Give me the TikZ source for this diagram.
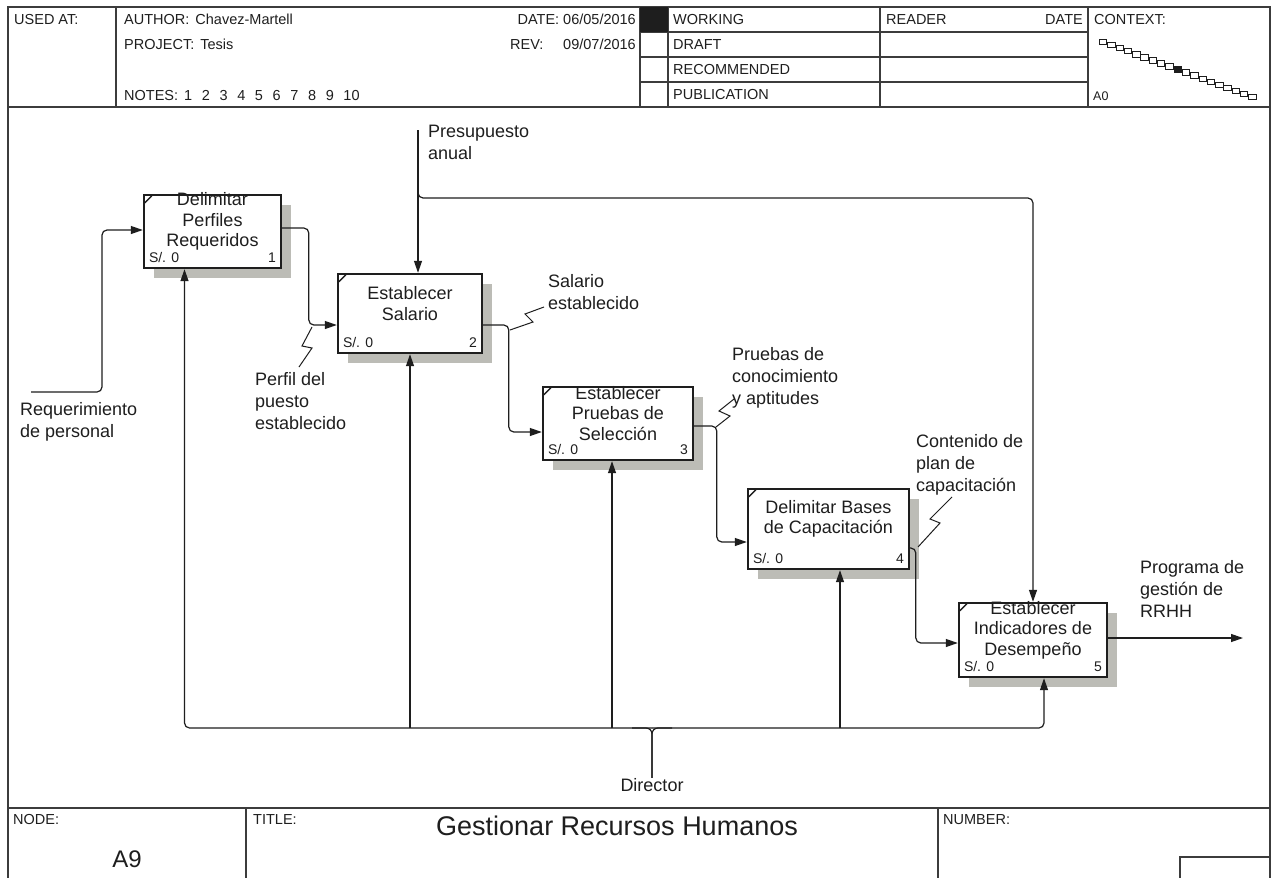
\documentclass[tikz,border=0pt]{standalone}
\usepackage{fontspec}
\setmainfont{Liberation Sans}
\usetikzlibrary{arrows.meta,calc,shadows}
\definecolor{ink}{RGB}{30,30,30}
\definecolor{shade}{RGB}{188,188,182}
\definecolor{rule}{RGB}{60,60,60}
\newcommand\notenum[1]{\makebox[17.7pt][l]{#1}}
\tikzset{
  hdr/.style={anchor=base west, inner sep=0, font=\fontsize{14.5}{16}\selectfont, text=ink},
  hdrR/.style={hdr, anchor=base east},
  lbl/.style={anchor=base west, inner sep=0, align=left, font=\fontsize{18}{22}\selectfont, text=ink},
  fnbox/.style={draw=ink, line width=2.4pt, fill=white, inner sep=0,
    general shadow={fill=shade, shadow xshift=10pt, shadow yshift=-10pt}},
  btext/.style={align=center, inner sep=0, font=\fontsize{18}{20.5}\selectfont, text=ink},
  cost/.style={anchor=base west, inner sep=0, font=\fontsize{14}{16}\selectfont, text=ink},
  num/.style={anchor=base east, inner sep=0, font=\fontsize{14}{16}\selectfont, text=ink},
  flow/.style={draw=ink, line width=1.2pt, rounded corners=5pt, -{Triangle[length=12pt,width=8pt]}},
  wire/.style={draw=ink, line width=1.2pt, rounded corners=6pt},
  squig/.style={draw=ink, line width=1pt},
  frame/.style={draw=rule, line width=1.3pt},
}
\begin{document}
\begin{tikzpicture}[x=1pt, y=-1pt]
\useasboundingbox (0,0) rectangle (1272,878);
\fill[white] (0,0) rectangle (1272,878);

% ---------- sheet frame ----------
\draw[frame] (8,890) -- (8,7) -- (1270,7) -- (1270,890);
\draw[frame] (8,107) -- (1270,107);
\foreach \x in {116,640,668,880,1088} \draw[frame] (\x,7) -- (\x,107);
\foreach \y in {32,57,82} \draw[frame] (640,\y) -- (1088,\y);
\fill[ink] (640,7) rectangle (668,32);
\draw[frame] (8,808) -- (1270,808);
\draw[frame] (246,808) -- (246,890);
\draw[frame] (938,808) -- (938,890);
\draw[frame] (1180,890) -- (1180,857) -- (1270,857);

% ---------- header texts ----------
\node[hdr] (usedat) at (14,24) {USED AT:};
\node[hdr] (author) at (124,24) {AUTHOR:\hspace{6pt}Chavez-Martell};
\node[hdr] (project) at (124,49) {PROJECT:\hspace{6pt}Tesis};
\node[hdr] (notes) at (124,100) {\makebox[60pt][l]{NOTES:}\notenum{1}\notenum{2}\notenum{3}\notenum{4}\notenum{5}\notenum{6}\notenum{7}\notenum{8}\notenum{9}10};
\node[hdrR] (date) at (636,24) {DATE:\hspace{4pt}06/05/2016};
\node[hdr] (rev) at (510,49) {REV:};
\node[hdrR] (revdate) at (636,49) {09/07/2016};
\node[hdr] (working) at (673,24) {WORKING};
\node[hdr] (draft) at (673,49) {DRAFT};
\node[hdr] (recom) at (673,74) {RECOMMENDED};
\node[hdr] (public) at (673,99) {PUBLICATION};
\node[hdr] (reader) at (886,24) {READER};
\node[hdrR] (rdate) at (1083,24) {DATE};
\node[hdr] (context) at (1094,24) {CONTEXT:};
\node[hdr, font=\fontsize{12.5}{14}\selectfont] (ctxnode) at (1093,100) {A0};

% context chain of diagram boxes
\foreach \i in {0,...,18}{
  \pgfmathsetmacro\cx{1103+8.3*\i}
  \pgfmathsetmacro\cy{42+3.05*\i}
  \ifnum\i=9
    \filldraw[draw=ink, fill=ink, line width=0.8pt] (\cx-3.7,\cy-2.7) rectangle (\cx+3.7,\cy+2.7);
  \else
    \filldraw[draw=ink, fill=white, line width=0.8pt] (\cx-3.7,\cy-2.7) rectangle (\cx+3.7,\cy+2.7);
  \fi
}

% ---------- footer texts ----------
\node[hdr] (nodelbl) at (13,824) {NODE:};
\node[hdr] (titlelbl) at (253,824) {TITLE:};
\node[hdr] (numberlbl) at (943,824) {NUMBER:};
\node[anchor=base, inner sep=0, font=\fontsize{24}{28}\selectfont, text=ink] (nodeid) at (127,867) {A9};
\node[anchor=base west, inner sep=0, font=\fontsize{27}{30}\selectfont, text=ink] (title) at (436,835) {Gestionar Recursos Humanos};

% ---------- activity boxes ----------
\node[fnbox, minimum width=137pt, minimum height=73pt] (b1) at (212.5,231.5) {};
\node[fnbox, minimum width=144pt, minimum height=79pt] (b2) at (410,313.5) {};
\node[fnbox, minimum width=150pt, minimum height=73pt] (b3) at (618,423.5) {};
\node[fnbox, minimum width=161pt, minimum height=80pt] (b4) at (828.5,529) {};
\node[fnbox, minimum width=148pt, minimum height=74pt] (b5) at (1033,640) {};

\foreach \b in {b1,b2,b3,b4,b5}
  \draw[ink, line width=1.3pt] ($(\b.north west)+(2,9)$) -- ($(\b.north west)+(9,2)$);

\node[btext] (t1) at ($(b1.center)+(0,-10)$) {Delimitar\\Perfiles\\Requeridos};
\node[btext] (t2) at ($(b2.center)+(0,-10)$) {Establecer\\Salario};
\node[btext] (t3) at ($(b3.center)+(0,-10)$) {Establecer\\Pruebas de\\Selección};
\node[btext] (t4) at ($(b4.center)+(0,-10)$) {Delimitar Bases\\de Capacitación};
\node[btext] (t5) at ($(b5.center)+(0,-10)$) {Establecer\\Indicadores de\\Desempeño};

\foreach \b/\n in {b1/1,b2/2,b3/3,b4/4,b5/5}{
  \node[cost] (\b cost) at ($(\b.south west)+(6,-7)$) {S/. 0};
  \node[num] (\b num) at ($(\b.south east)+(-6,-7)$) {\n};
}

% ---------- arrow labels (anchored at the baseline of their last line) ----------
\node[lbl] (lreq) at (20,437) {Requerimiento\\de personal};
\node[lbl] (lperfil) at (255,429) {Perfil del\\puesto\\establecido};
\node[lbl] (lpres) at (428,159) {Presupuesto\\anual};
\node[lbl] (lsal) at (548,309) {Salario\\establecido};
\node[lbl] (lpru) at (732,404) {Pruebas de\\conocimiento\\y aptitudes};
\node[lbl] (lcon) at (916,491) {Contenido de\\plan de\\capacitación};
\node[lbl] (lprog) at (1140,617) {Programa de\\gestión de\\RRHH};
\node[anchor=base, inner sep=0, font=\fontsize{18}{22}\selectfont, text=ink] (dir) at (652,791) {Director};

% ---------- free ends ----------
\coordinate (in1) at (31,392);
\coordinate (ctl) at (418,130);
\coordinate (out1) at (1243,638);
\coordinate (bus) at (652,728);

% input
\draw[flow] (in1) -- (102,392) |- ($(b1.west)+(0,-1.5)$);

% box to box
\draw[flow] ($(b1.east)+(0,-3.5)$) -| ($(b2.west)+(-28,11.5)$) -- ($(b2.west)+(0,11.5)$);
\draw[flow] ($(b2.east)+(0,11.5)$) -| ($(b3.west)+(-33,8.5)$) -- ($(b3.west)+(0,8.5)$);
\draw[flow] ($(b3.east)+(0,2.5)$) -| ($(b4.west)+(-30,13)$) -- ($(b4.west)+(0,13)$);
\draw[flow] ($(b4.east)+(0,19)$) -| ($(b5.west)+(-42,3)$) -- ($(b5.west)+(0,3)$);

% output
\draw[flow] ($(b5.east)+(0,-2)$) -- (out1);

% control
\draw[flow] (ctl) -- ($(b2.north)+(8,0)$);
\draw[flow] (ctl) -- ++(0,68) -| (b5.north);

% mechanism
\coordinate (m1) at ($(b1.south)+(-28,0)$);
\coordinate (m3) at ($(b3.south)+(-6,0)$);
\coordinate (m4) at ($(b4.south)+(11.5,0)$);
\coordinate (m5) at ($(b5.south)+(11,0)$);
\draw[wire] (dir.north) |- ($(bus)+(-20,0)$);
\draw[wire] (dir.north) |- ($(bus)+(20,0)$);
\draw[flow] (bus) -| (m1);
\draw[flow] (bus) -| (m5);
\draw[flow] (b2.south |- bus) -- (b2.south);
\draw[flow] (m3 |- bus) -- (m3);
\draw[flow] (m4 |- bus) -- (m4);

% squiggles tying labels to their arrows
\draw[squig] (312,327) -- (302,346) -- (312,348) -- (299,367);
\draw[squig] (510,330) -- (533,322) -- (525,314) -- (544,307);
\draw[squig] (716,427) -- (730,416) -- (719,411) -- (734,399);
\draw[squig] (918,547) -- (940,523) -- (930,519) -- (952,497);

\end{tikzpicture}
\end{document}
